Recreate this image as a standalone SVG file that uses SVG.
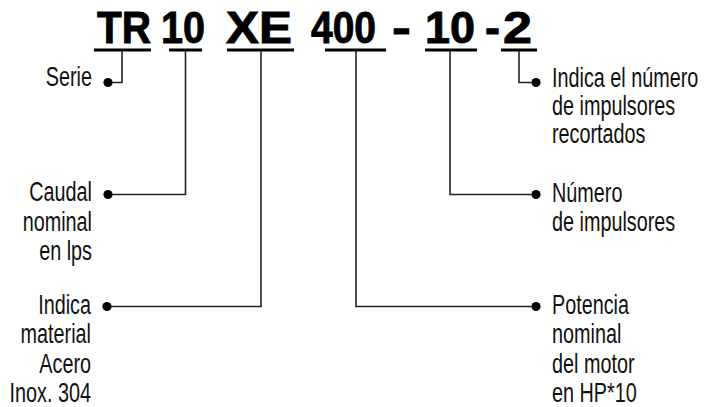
<svg xmlns="http://www.w3.org/2000/svg" width="715" height="407" viewBox="0 0 715 407">
<style>
.code{font-family:"Liberation Sans",Arial,sans-serif;font-weight:bold;font-size:44px;fill:#000;stroke:#000;stroke-width:0.9}
.lbl{font-family:"Liberation Sans",Arial,sans-serif;font-size:27.5px;fill:#111}
.r{text-anchor:end}
.ul{stroke:#000;stroke-width:3;fill:none}
.ln{stroke:#222;stroke-width:1.6;fill:none}
.dot{fill:#000}
</style>
<rect width="715" height="407" fill="#fff"/>
<g id="code">
<text class="code" x="97" y="43" textLength="54" lengthAdjust="spacingAndGlyphs">TR</text>
<text class="code" x="161" y="43" textLength="44" lengthAdjust="spacingAndGlyphs">10</text>
<text class="code" x="226" y="43" textLength="66" lengthAdjust="spacingAndGlyphs">XE</text>
<text class="code" x="311" y="43" textLength="65" lengthAdjust="spacingAndGlyphs">400</text>
<text class="code" x="392" y="43" textLength="19" lengthAdjust="spacingAndGlyphs">-</text>
<text class="code" x="425" y="43" textLength="50" lengthAdjust="spacingAndGlyphs">10</text>
<text class="code" x="485" y="43" textLength="15" lengthAdjust="spacingAndGlyphs">-</text>
<text class="code" x="503" y="43" textLength="29" lengthAdjust="spacingAndGlyphs">2</text>
<line class="ul" x1="94" y1="50" x2="151" y2="50"/>
<line class="ul" x1="169" y1="50" x2="202" y2="50"/>
<line class="ul" x1="227" y1="50" x2="294" y2="50"/>
<line class="ul" x1="325" y1="50" x2="386" y2="50"/>
<line class="ul" x1="425" y1="50" x2="477" y2="50"/>
<line class="ul" x1="501" y1="50" x2="537" y2="50"/>
</g>
<g id="connectors">
<polyline class="ln" points="122,51 122,82.5 108,82.5"/>
<polyline class="ln" points="185.5,51 185.5,194.5 108,194.5"/>
<polyline class="ln" points="261,51 261,306.5 107,306.5"/>
<polyline class="ln" points="356,51 356,306.5 536,306.5"/>
<polyline class="ln" points="450,51 450,194.5 536,194.5"/>
<polyline class="ln" points="519,51 519,82.5 536,82.5"/>
<circle class="dot" cx="108" cy="82.5" r="4.6"/>
<circle class="dot" cx="108" cy="194.5" r="4.6"/>
<circle class="dot" cx="107" cy="306.5" r="4.6"/>
<circle class="dot" cx="536" cy="306.5" r="4.6"/>
<circle class="dot" cx="536" cy="194.5" r="4.6"/>
<circle class="dot" cx="536" cy="82.5" r="4.6"/>
</g>
<g id="serie">
<text class="lbl r" transform="translate(92 86) scale(0.72 1)" x="0" y="0">Serie</text>
</g>
<g id="caudal">
<text class="lbl r" transform="translate(92 201) scale(0.72 1)"><tspan x="0" y="0">Caudal</tspan><tspan x="0" y="30">nominal</tspan><tspan x="0" y="59">en lps</tspan></text>
</g>
<g id="material">
<text class="lbl r" transform="translate(91 314) scale(0.72 1)"><tspan x="0" y="0">Indica</tspan><tspan x="0" y="29.3">material</tspan><tspan x="0" y="58.7">Acero</tspan><tspan x="0" y="88">Inox. 304</tspan></text>
</g>
<g id="recortados">
<text class="lbl" transform="translate(552 87) scale(0.72 1)"><tspan x="0" y="0">Indica el número</tspan><tspan x="0" y="28">de impulsores</tspan><tspan x="0" y="56">recortados</tspan></text>
</g>
<g id="impulsores">
<text class="lbl" transform="translate(552 202) scale(0.72 1)"><tspan x="0" y="0">Número</tspan><tspan x="0" y="29.5">de impulsores</tspan></text>
</g>
<g id="potencia">
<text class="lbl" transform="translate(552 314) scale(0.72 1)"><tspan x="0" y="0">Potencia</tspan><tspan x="0" y="29.3">nominal</tspan><tspan x="0" y="58.7">del motor</tspan><tspan x="0" y="88">en HP*10</tspan></text>
</g>
</svg>
